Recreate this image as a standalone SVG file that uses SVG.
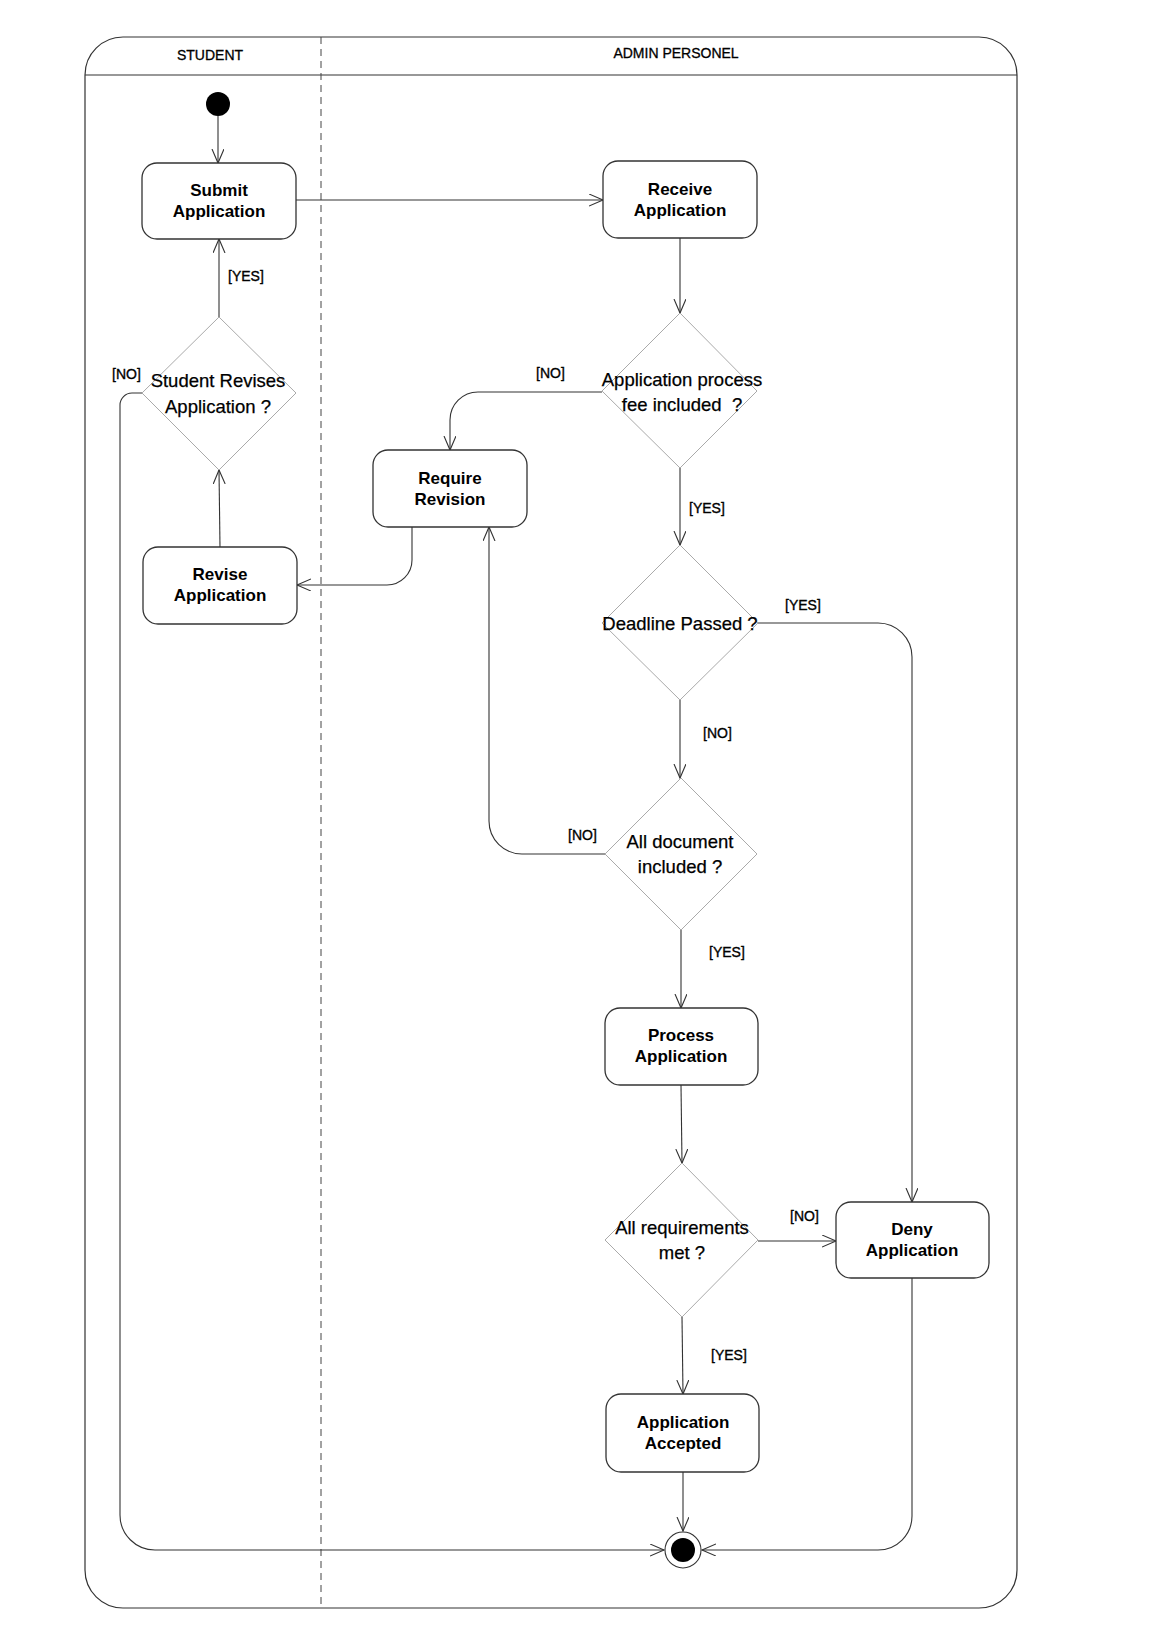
<svg xmlns="http://www.w3.org/2000/svg" width="1161" height="1648" viewBox="0 0 1161 1648">
<style>
.frame{fill:none;stroke:#333;stroke-width:1.2}
.sep{fill:none;stroke:#444;stroke-width:1;stroke-dasharray:7 5}
.node rect{fill:#fff;stroke:#333;stroke-width:1.3}
.node text{font-family:"Liberation Sans",Arial,sans-serif;font-size:17px;font-weight:bold;text-anchor:middle;fill:#000}
.dec polygon{fill:#fff;stroke:#aaa;stroke-width:1}
.dec text{font-family:"Liberation Sans",Arial,sans-serif;font-size:18.5px;text-anchor:middle;fill:#000;white-space:pre;stroke:#000;stroke-width:0.25}
.lane{font-family:"Liberation Sans",Arial,sans-serif;font-size:14px;text-anchor:middle;fill:#000;stroke:#000;stroke-width:0.3}
.lbl{font-family:"Liberation Sans",Arial,sans-serif;font-size:14px;fill:#000;stroke:#000;stroke-width:0.35}
.conn path,.conn line{fill:none;stroke:#333;stroke-width:1.1}
</style>
<defs>
<marker id="arr" markerUnits="userSpaceOnUse" markerWidth="16" markerHeight="14" refX="14" refY="6" orient="auto">
<path d="M0,0 L14,6 L0,12" fill="none" stroke="#333" stroke-width="1.1"/>
</marker>
</defs>
<rect width="1161" height="1648" fill="#fff"/>
<g id="frame">
<rect class="frame" x="85" y="37" width="932" height="1571" rx="38" ry="38"/>
<line class="frame" x1="85" y1="75" x2="1017" y2="75"/>
<line class="sep" x1="321" y1="37" x2="321" y2="1608"/>
<text class="lane" x="210" y="60">STUDENT</text>
<text class="lane" x="676" y="58">ADMIN PERSONEL</text>
</g>
<g class="conn" id="connectors">
<line x1="218" y1="116" x2="218" y2="163" marker-end="url(#arr)"/>
<line x1="296" y1="200" x2="603" y2="200" marker-end="url(#arr)"/>
<line x1="680" y1="238" x2="680" y2="313" marker-end="url(#arr)"/>
<path d="M602,392 H478 A28,28 0 0 0 450,420 V450" marker-end="url(#arr)"/>
<line x1="680" y1="468" x2="680" y2="545" marker-end="url(#arr)"/>
<path d="M758,623 H878 A34,34 0 0 1 912,657 V1202" marker-end="url(#arr)"/>
<line x1="680" y1="700" x2="680" y2="778" marker-end="url(#arr)"/>
<path d="M605,854 H522 A33,33 0 0 1 489,821 V527" marker-end="url(#arr)"/>
<path d="M412,527 V560 A25,25 0 0 1 387,585 H297" marker-end="url(#arr)"/>
<line x1="220" y1="547" x2="219" y2="470" marker-end="url(#arr)"/>
<line x1="219" y1="317" x2="219" y2="239" marker-end="url(#arr)"/>
<path d="M143,393 H132 A12,12 0 0 0 120,405 V1515 A35,35 0 0 0 155,1550 H664" marker-end="url(#arr)"/>
<line x1="681" y1="930" x2="681" y2="1008" marker-end="url(#arr)"/>
<line x1="681" y1="1085" x2="682" y2="1163" marker-end="url(#arr)"/>
<line x1="758" y1="1241" x2="836" y2="1241" marker-end="url(#arr)"/>
<line x1="682" y1="1317" x2="683" y2="1394" marker-end="url(#arr)"/>
<line x1="683" y1="1472" x2="683" y2="1531" marker-end="url(#arr)"/>
<path d="M912,1278 V1516 A34,34 0 0 1 878,1550 H702" marker-end="url(#arr)"/>
</g>
<g id="labels">
<text class="lbl" x="228" y="281">[YES]</text>
<text class="lbl" x="112" y="379">[NO]</text>
<text class="lbl" x="536" y="378">[NO]</text>
<text class="lbl" x="689" y="513">[YES]</text>
<text class="lbl" x="785" y="610">[YES]</text>
<text class="lbl" x="703" y="738">[NO]</text>
<text class="lbl" x="568" y="840">[NO]</text>
<text class="lbl" x="709" y="957">[YES]</text>
<text class="lbl" x="790" y="1221">[NO]</text>
<text class="lbl" x="711" y="1360">[YES]</text>
</g>
<g id="start"><circle cx="218" cy="104" r="12" fill="#000"/></g>
<g id="submit" class="node"><rect x="142" y="163" width="154" height="76" rx="15"/><text x="219" y="196">Submit</text><text x="219" y="217">Application</text></g>
<g id="receive" class="node"><rect x="603" y="161" width="154" height="77" rx="15"/><text x="680" y="195">Receive</text><text x="680" y="216">Application</text></g>
<g id="require" class="node"><rect x="373" y="450" width="154" height="77" rx="15"/><text x="450" y="484">Require</text><text x="450" y="505">Revision</text></g>
<g id="revise" class="node"><rect x="143" y="547" width="154" height="77" rx="15"/><text x="220" y="580">Revise</text><text x="220" y="601">Application</text></g>
<g id="process" class="node"><rect x="605" y="1008" width="153" height="77" rx="15"/><text x="681" y="1041">Process</text><text x="681" y="1062">Application</text></g>
<g id="deny" class="node"><rect x="836" y="1202" width="153" height="76" rx="15"/><text x="912" y="1235">Deny</text><text x="912" y="1256">Application</text></g>
<g id="accepted" class="node"><rect x="606" y="1394" width="153" height="78" rx="15"/><text x="683" y="1428">Application</text><text x="683" y="1449">Accepted</text></g>
<g id="d-student" class="dec"><polygon points="219,317 296,393 219,470 142,393"/><text x="218" y="387">Student Revises</text><text x="218" y="413">Application ?</text></g>
<g id="d-fee" class="dec"><polygon points="680,313 757,391 680,468 602,391"/><text x="682" y="386">Application process</text><text x="682" y="411">fee included  ?</text></g>
<g id="d-deadline" class="dec"><polygon points="680,545 758,623 680,700 602,623"/><text x="680" y="630">Deadline Passed ?</text></g>
<g id="d-alldoc" class="dec"><polygon points="681,778 757,854 681,930 605,854"/><text x="680" y="848">All document</text><text x="680" y="873">included ?</text></g>
<g id="d-req" class="dec"><polygon points="682,1163 758,1240 682,1317 605,1240"/><text x="682" y="1234">All requirements</text><text x="682" y="1259">met ?</text></g>
<g id="final"><circle cx="683" cy="1550" r="18" fill="#fff" stroke="#333" stroke-width="1.1"/><circle cx="683" cy="1550" r="12" fill="#000"/></g>
</svg>
